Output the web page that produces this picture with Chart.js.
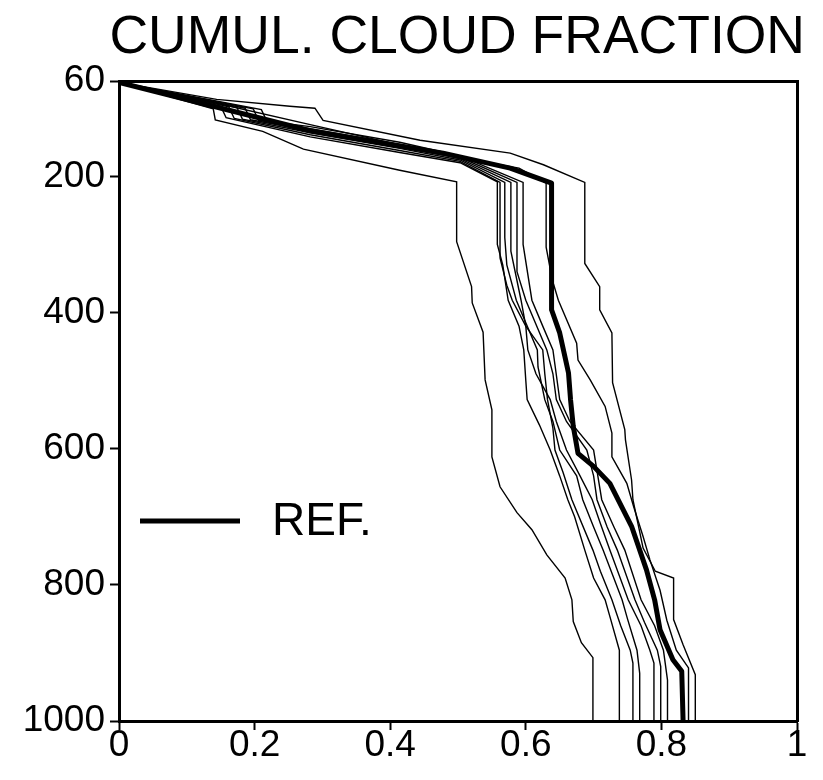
<!DOCTYPE html>
<html><head><meta charset="utf-8">
<script src="https://cdn.jsdelivr.net/npm/chart.js@4/dist/chart.umd.min.js"></script>
<style>html,body{margin:0;padding:0;background:#fff;}#wrap{width:823px;height:780px;}</style>
</head><body><div id="wrap"><canvas id="c" width="823" height="780"></canvas></div>
<script>
const titleText = 'CUMUL. CLOUD FRACTION';
const refLabel = 'REF.';
const xTicks = [0, 0.2, 0.4, 0.6, 0.8, 1];
const yTicks = [60, 200, 400, 600, 800, 1000];

// each series: [cumulative cloud fraction, pressure]
const refRun = [[0,62],[0.282,133],[0.478,166],[0.577,188],[0.638,210],[0.638,396],[0.650,430],[0.663,489],[0.666,528],[0.670,567],[0.677,607],[0.700,626],[0.724,651],[0.756,714],[0.778,778],[0.790,822],[0.798,866],[0.817,910],[0.830,927],[0.832,1000]];
const runA = [[0,62],[0.139,101],[0.142,117],[0.212,134],[0.272,160],[0.414,191],[0.498,208],[0.498,296],[0.520,362],[0.521,386],[0.537,429],[0.540,499],[0.550,543],[0.550,612],[0.562,656],[0.587,694],[0.609,719],[0.631,756],[0.658,790],[0.668,822],[0.670,854],[0.682,885],[0.699,907],[0.699,1000]];
const runB = [[0,62],[0.150,97],[0.158,114],[0.282,142],[0.414,165],[0.503,180],[0.558,208],[0.558,300],[0.566,330],[0.574,382],[0.590,420],[0.597,455],[0.600,500],[0.602,528],[0.620,565],[0.636,602],[0.650,640],[0.662,675],[0.672,700],[0.687,749],[0.700,790],[0.717,822],[0.725,850],[0.738,896],[0.738,1000]];
const runC = [[0,62],[0.162,98],[0.170,115],[0.282,139],[0.414,162],[0.503,178],[0.562,209],[0.562,320],[0.572,360],[0.580,382],[0.600,420],[0.625,455],[0.628,490],[0.632,528],[0.640,570],[0.643,602],[0.655,635],[0.668,675],[0.699,749],[0.710,780],[0.727,822],[0.740,860],[0.754,896],[0.758,915],[0.758,1000]];
const runD = [[0,62],[0.174,99],[0.182,116],[0.282,136],[0.414,159],[0.503,176],[0.569,209],[0.569,290],[0.572,330],[0.586,382],[0.600,415],[0.617,455],[0.618,480],[0.628,528],[0.640,560],[0.650,602],[0.675,640],[0.684,675],[0.700,715],[0.714,749],[0.742,822],[0.750,850],[0.764,896],[0.768,930],[0.768,1000]];
const runE = [[0,62],[0.186,100],[0.194,117],[0.282,133],[0.414,156],[0.503,174],[0.578,209],[0.578,310],[0.593,382],[0.600,420],[0.603,455],[0.615,490],[0.636,528],[0.645,560],[0.660,602],[0.680,640],[0.698,675],[0.710,710],[0.724,749],[0.751,822],[0.770,860],[0.783,896],[0.789,915],[0.789,1000]];
const runF = [[0,62],[0.198,101],[0.206,118],[0.282,130],[0.414,153],[0.503,172],[0.587,209],[0.587,340],[0.600,382],[0.631,455],[0.640,490],[0.645,528],[0.660,560],[0.690,602],[0.700,640],[0.705,675],[0.720,715],[0.735,749],[0.761,822],[0.775,855],[0.794,896],[0.799,920],[0.799,1000]];
const runG = [[0,62],[0.210,102],[0.218,119],[0.282,127],[0.414,150],[0.503,170],[0.596,209],[0.596,300],[0.609,382],[0.625,420],[0.640,455],[0.650,528],[0.665,560],[0.700,602],[0.712,675],[0.730,715],[0.746,749],[0.770,822],[0.790,860],[0.803,896],[0.809,940],[0.809,1000]];
const runH = [[0,62],[0.141,92],[0.282,124],[0.473,167],[0.590,188],[0.630,210],[0.630,304],[0.639,352],[0.648,382],[0.675,445],[0.677,470],[0.695,499],[0.717,538],[0.727,577],[0.727,612],[0.749,651],[0.759,685],[0.773,729],[0.783,763],[0.798,808],[0.808,852],[0.822,896],[0.840,922],[0.840,1000]];
const runI = [[0,62],[0.144,87],[0.252,97],[0.289,100],[0.301,118],[0.444,147],[0.577,166],[0.626,183],[0.687,209],[0.687,328],[0.709,362],[0.709,396],[0.727,430],[0.728,503],[0.746,572],[0.747,587],[0.756,646],[0.758,675],[0.773,746],[0.791,780],[0.818,790],[0.818,851],[0.832,888],[0.850,932],[0.850,1000]];

const thinRuns = [runA, runB, runC, runD, runE, runF, runG, runH, runI];
const toPts = arr => arr.map(([v, p]) => ({x: v, y: p}));

const datasets = [{
  label: refLabel, data: toPts(refRun), borderColor: '#000', borderWidth: 5,
  showLine: true, pointRadius: 0, order: 0, borderJoinStyle: 'round', xAxisID: 'x', yAxisID: 'y'
}].concat(thinRuns.map((r, i) => ({
  label: 'run' + (i + 1), data: toPts(r), borderColor: '#000', borderWidth: 1.4,
  showLine: true, pointRadius: 0, order: 1, xAxisID: 'x', yAxisID: 'y'
})));

const FONT = "'Liberation Sans', Arial, sans-serif";
// use the narrow cut for tick labels when it is installed
const probe = document.createElement('canvas').getContext('2d');
probe.font = "40px 'Liberation Sans Narrow', monospace";
const wNarrow = probe.measureText('1000').width;
probe.font = "40px monospace";
const wMono = probe.measureText('1000').width;
const hasNarrow = Math.abs(wNarrow - wMono) > 0.5;
const TICKFONT = hasNarrow ? "'Liberation Sans Narrow', 'Liberation Sans', sans-serif" : FONT;
const TICKSIZE = hasNarrow ? 44 : 37;

const legendPlugin = {
  id: 'refLegend',
  afterDatasetsDraw(chart) {
    const {ctx, chartArea} = chart;
    const y = chartArea.top + 440;
    const x0 = chartArea.left + 21;
    ctx.save();
    ctx.strokeStyle = '#000';
    ctx.lineWidth = 5;
    ctx.beginPath();
    ctx.moveTo(x0, y);
    ctx.lineTo(x0 + 100, y);
    ctx.stroke();
    ctx.fillStyle = '#000';
    ctx.font = '46px ' + FONT;
    ctx.textBaseline = 'middle';
    ctx.textAlign = 'left';
    ctx.fillText(refLabel, x0 + 132, y + 1);
    ctx.restore();
  }
};

new Chart(document.getElementById('c'), {
  type: 'scatter',
  data: {datasets},
  options: {
    responsive: false, animation: false, devicePixelRatio: 1,
    layout: {padding: {left: 0, right: 18, top: 0, bottom: 0}},
    plugins: {
      legend: {display: false},
      tooltip: {enabled: false},
      title: {
        display: true, text: titleText, align: 'end', color: '#000',
        font: {family: FONT, size: 53.5, weight: 'normal', lineHeight: 1.2},
        padding: {top: 6, bottom: 10.8}
      }
    },
    scales: {
      x: {
        type: 'linear', position: 'bottom', min: 0, max: 1,
        afterBuildTicks: s => { s.ticks = xTicks.map(v => ({value: v})); },
        afterFit: s => { s.height = 59; },
        ticks: {color: '#000', font: {family: TICKFONT, size: TICKSIZE}, padding: -6, maxRotation: 0,
                callback: v => String(v)},
        grid: {display: true, drawOnChartArea: false, drawTicks: true, tickLength: 9, tickWidth: 2, tickColor: '#000'},
        border: {display: true, color: '#000', width: 3}
      },
      xT: {
        type: 'linear', position: 'top', min: 0, max: 1,
        afterFit: s => { s.height = 0; },
        ticks: {display: false}, grid: {display: false},
        border: {display: true, color: '#000', width: 3}
      },
      y: {
        type: 'linear', position: 'left', min: 60, max: 1000, reverse: true,
        afterBuildTicks: s => { s.ticks = yTicks.map(v => ({value: v})); },
        afterFit: s => { s.width = 119; },
        ticks: {color: '#000', font: {family: TICKFONT, size: TICKSIZE}, padding: 5,
                callback: v => String(v)},
        grid: {display: true, drawOnChartArea: false, drawTicks: true, tickLength: 9, tickWidth: 2, tickColor: '#000'},
        border: {display: true, color: '#000', width: 3}
      },
      yR: {
        type: 'linear', position: 'right', min: 60, max: 1000, reverse: true,
        afterFit: s => { s.width = 8; },
        ticks: {display: false}, grid: {display: false},
        border: {display: true, color: '#000', width: 3}
      }
    }
  },
  plugins: [legendPlugin]
});
</script></body></html>
